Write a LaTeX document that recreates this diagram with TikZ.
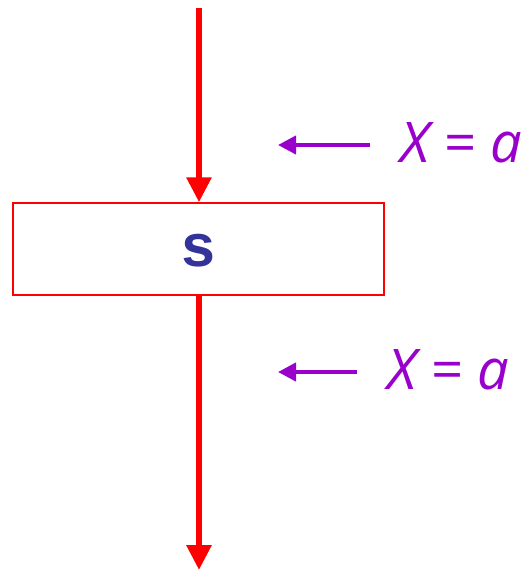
\documentclass[tikz,border=0pt]{standalone}
\usepackage{fontspec}
\newfontfamily\labfont{Open Sans}
\newfontfamily\codefont{Liberation Mono}
\usetikzlibrary{arrows.meta}
\definecolor{flowred}{RGB}{255,0,0}
\definecolor{labpurple}{RGB}{153,0,204}
\definecolor{codeblue}{RGB}{51,51,153}
\tikzset{
  flow/.style={draw=flowred, line width=6pt, -{Triangle[width=24pt,length=25pt]}},
  stmtbox/.style={draw=flowred, line width=1.5pt, minimum width=371pt, minimum height=92pt, inner sep=0pt},
  factarrow/.style={draw=labpurple, line width=4pt, -{Triangle[width=18pt,length=18pt]}},
  fact/.style={text=labpurple, font=\labfont\itshape\fontsize{56}{60}\selectfont, anchor=west, inner sep=0pt},
}
\begin{document}
\begin{tikzpicture}[x=1pt,y=-1pt]
\useasboundingbox (0,0) rectangle (526,571);
\node[stmtbox] (box) at (198.5,249) {};
\node[text=codeblue, font=\codefont\bfseries\fontsize{60}{62}\selectfont] (s) at (199,251) {s};
\coordinate (topstart) at (199,8);
\coordinate (botend) at (199,570);
\draw[flow] (topstart) -- (box.north -| topstart);
\draw[flow] (box.south -| topstart) -- (botend);
\node[fact] (f1) at (400,143) {X = a};
\node[fact] (f2) at (387,370) {X = a};
\coordinate (a1s) at (370,145);
\coordinate (a1e) at (278,145);
\coordinate (a2s) at (357,372);
\coordinate (a2e) at (278,372);
\draw[factarrow] (a1s) -- (a1e);
\draw[factarrow] (a2s) -- (a2e);
\end{tikzpicture}
\end{document}
